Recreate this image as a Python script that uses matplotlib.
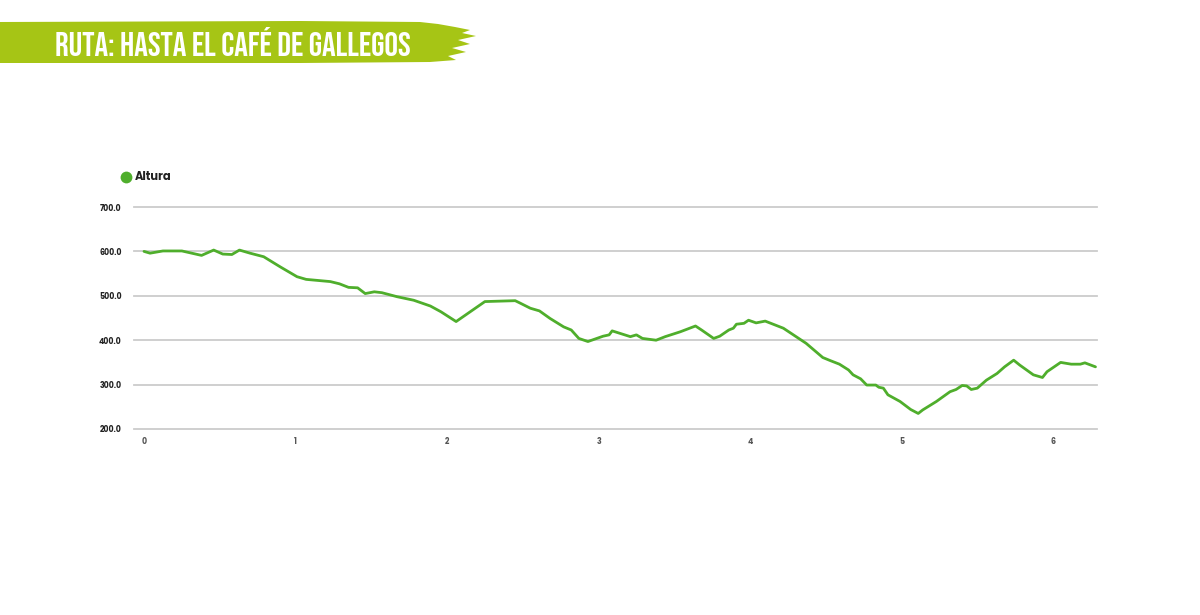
import matplotlib
matplotlib.use("Agg")
import matplotlib.pyplot as plt
from matplotlib.patches import Polygon
from matplotlib.lines import Line2D

# ---- data ----
distance_km = [0.00, 0.04, 0.125, 0.25, 0.38, 0.46, 0.52, 0.58, 0.63, 0.70, 0.79, 0.90,
               1.01, 1.07, 1.23, 1.29, 1.35, 1.41, 1.46, 1.52, 1.57, 1.67, 1.78, 1.89,
               1.96, 2.06, 2.25, 2.45, 2.48, 2.55, 2.61, 2.68, 2.77, 2.82, 2.87, 2.93,
               3.03, 3.07, 3.09, 3.21, 3.25, 3.29, 3.38, 3.44, 3.54, 3.64, 3.68, 3.76,
               3.80, 3.86, 3.89, 3.91, 3.96, 3.99, 4.04, 4.10, 4.22, 4.37, 4.48, 4.53,
               4.59, 4.65, 4.68, 4.73, 4.77, 4.83, 4.85, 4.88, 4.91, 4.99, 5.06, 5.11,
               5.14, 5.23, 5.32, 5.36, 5.40, 5.43, 5.46, 5.50, 5.56, 5.63, 5.68, 5.74,
               5.78, 5.87, 5.93, 5.96, 6.05, 6.12, 6.18, 6.21, 6.28]
altura_m = [600, 596, 601, 601, 591, 603, 594, 593, 603, 596, 588, 565,
            543, 537, 532, 527, 519, 518, 505, 509, 507, 498, 490, 477,
            464, 442, 487, 489, 484, 472, 466, 449, 430, 423, 404, 397,
            409, 412, 421, 408, 412, 404, 400, 408, 419, 432, 423, 404,
            409, 423, 427, 436, 438, 445, 439, 443, 427, 393, 361, 354,
            346, 333, 322, 313, 299, 299, 294, 292, 277, 262, 244, 235,
            243, 262, 284, 289, 298, 297, 289, 292, 310, 325, 340, 355,
            344, 322, 316, 329, 350, 346, 346, 349, 340]
x_ticks = [0, 1, 2, 3, 4, 5, 6]
y_ticks = [200, 300, 400, 500, 600, 700]
title_text = "RUTA: HASTA EL CAFÉ DE GALLEGOS"
series_name = "Altura"

LINE = "#4fae2c"
BANNER = "#a6c515"
UI_FONT = ["Poppins", "Open Sans", "DejaVu Sans"]
TITLE_FONT = ["Bebas Neue", "Oswald", "DejaVu Sans"]

W, H = 1200, 615
fig = plt.figure(figsize=(W / 100, H / 100), dpi=100)
fig.patch.set_facecolor("white")

def fx(px):
    return px / W

def fy(py):
    return 1 - py / H

ax = fig.add_axes([fx(134), fy(429), fx(1097) - fx(134), fy(207) - fy(429)])
ax.plot(distance_km, altura_m, color=LINE, lw=2.0, solid_joinstyle="round",
        solid_capstyle="round", zorder=3)
ax.set_xlim(-0.066, 6.29)
ax.set_ylim(200, 700)
ax.set_yticks(y_ticks)
ax.set_yticklabels([f"{v:.1f}" for v in y_ticks])
ax.set_xticks(x_ticks)
ax.set_xticklabels([str(v) for v in x_ticks])
for s in ax.spines.values():
    s.set_visible(False)
ax.tick_params(length=0, labelsize=5.6, colors="#222222", pad=6)
ax.tick_params(axis="y", pad=9)
for lab in ax.get_xticklabels() + ax.get_yticklabels():
    lab.set_fontweight("bold")
    lab.set_family(UI_FONT)
for lab in ax.get_xticklabels():
    lab.set_color("#555555")
ax.grid(axis="y", color="#cccccc", lw=1.3)
ax.set_axisbelow(True)
for gl in ax.get_ygridlines():
    gl.set_clip_on(False)

# legend
fig.lines.append(Line2D([fx(126)], [fy(177)], transform=fig.transFigure, marker="o",
                        markersize=8.5, color=LINE, markeredgewidth=0, linestyle="none"))
fig.text(fx(135), fy(177), series_name, fontsize=8.2, fontweight="bold", family=UI_FONT,
         color="#222222", va="center", ha="left")

# banner
pts = [(0, 22), (300, 21), (420, 22), (438, 24), (455, 27), (470, 30), (462, 33),
       (476, 36), (458, 40), (470, 44), (452, 48), (466, 52), (448, 56), (456, 60),
       (430, 62), (300, 63), (0, 63)]
fig.patches.append(Polygon([(fx(a), fy(b)) for a, b in pts], closed=True,
                           transform=fig.transFigure, facecolor=BANNER, edgecolor="none"))
fig.text(fx(55), fy(41), title_text, fontsize=24.5, family=TITLE_FONT,
         color="white", ha="left", va="center")

fig.savefig("out.png", dpi=100, facecolor="white")
